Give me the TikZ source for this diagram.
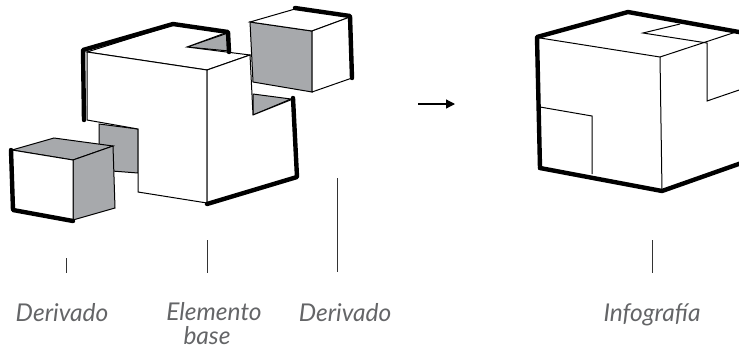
\documentclass[tikz,border=0pt]{standalone}
\usepackage{fontspec}
\newfontfamily\lblfont{Lato}
\usetikzlibrary{arrows.meta}
\definecolor{facegray}{HTML}{A7A9AC}
\definecolor{labelgray}{HTML}{646567}
\tikzset{
  thin edge/.style={draw=black, line width=1pt, line join=miter},
  thick edge/.style={draw=black, line width=4.4pt, line cap=round, line join=round},
  shade face/.style={fill=facegray, draw=black, line width=1pt},
  white face/.style={fill=white, draw=black, line width=1pt},
  leader/.style={draw=black!80, line width=1pt},
  label text/.style={font=\lblfont\itshape\fontsize{24.5}{28}\selectfont, text=labelgray, inner sep=0pt, anchor=base},
}
\begin{document}
\begin{tikzpicture}[x=1pt,y=-1pt]
\useasboundingbox (0,0) rectangle (739,349);
\clip (0,0) rectangle (739,349);

% ---- base element: recessed walls in grey ----
\path[shade face] (99,124) -- (138,129) -- (138,173) -- (99,170) -- cycle;
\path[shade face] (187,47) -- (228,33) -- (229,51) -- cycle;
\path[shade face] (253,94) -- (291,99) -- (253,115) -- cycle;

% ---- base element: visible faces ----
\path[white face] (87,52) -- (173,25) -- (228,32) -- (187,47) -- (250,55) -- (207,70) -- cycle;
\path[white face] (87,52) -- (207,70) -- (207,203) -- (138,192) -- (138,129) -- (87,120) -- cycle;
\path[white face] (207,70) -- (250,55) -- (253,115) -- (293,99) -- (297,177) -- (207,203) -- cycle;

% ---- base element: heavy outline ----
\draw[thick edge] (84,120) -- (83,50) -- (173,24) -- (228,32) -- (229,52);
\draw[thick edge] (293,98) -- (297,177) -- (207,204);

% ---- lower derived block ----
\path[shade face] (12,150) -- (54,138) -- (113,146) -- (73,160) -- cycle;
\path[shade face] (73,160) -- (113,146) -- (115,208) -- (73,220) -- cycle;
\path[white face] (12,150) -- (73,160) -- (73,220) -- (13,210) -- cycle;
\draw[thick edge] (11,150) -- (13,210) -- (73,221);

% ---- upper derived block ----
\path[shade face] (250,22) -- (312,31) -- (312,92) -- (253,82) -- cycle;
\path[white face] (250,22) -- (295,9) -- (350,17) -- (312,31) -- cycle;
\path[white face] (312,31) -- (350,17) -- (352,78) -- (312,92) -- cycle;
\draw[thick edge] (295,8) -- (350,16) -- (352,78);

% ---- arrow ----
\coordinate (arrS) at (418,104);
\coordinate (arrE) at (455,104);
\draw[line width=1.3pt, -{Triangle[length=9pt,width=9pt]}] (arrS) -- (arrE);

% ---- assembled infographic block ----
\draw[thin edge] (540,38) -- (660,57) -- (745,29);
\draw[thin edge] (660,57) -- (662,191);
\draw[thin edge] (680,24) -- (643,33) -- (707,43) -- (707,101) -- (745,88);
\draw[thin edge] (540,107) -- (592,116) -- (592,174);
\draw[thick edge] (540,168) -- (537,37) -- (628,12) -- (750,34);
\draw[thick edge] (540,168) -- (662,191) -- (750,160);

% ---- labels and leaders ----
\node[label text] (lblDerA) at (62,321) {Derivado};
\node[label text] (lblBase) at (214,320) {Elemento};
\node[label text] (lblBaseB) at (207,344.5) {base};
\node[label text] (lblDerB) at (345,321) {Derivado};
\node[label text] (lblInfo) at (652,321) {Infograf\'ia};

\coordinate (ldA1) at (66,258);  \coordinate (ldA2) at (66,273);
\coordinate (ldB1) at (207,240); \coordinate (ldB2) at (207,273);
\coordinate (ldC1) at (337,178); \coordinate (ldC2) at (337,272);
\coordinate (ldD1) at (652,240); \coordinate (ldD2) at (652,273);
\draw[leader] (ldA1) -- (ldA2);
\draw[leader] (ldB1) -- (ldB2);
\draw[leader] (ldC1) -- (ldC2);
\draw[leader] (ldD1) -- (ldD2);
\end{tikzpicture}
\end{document}
